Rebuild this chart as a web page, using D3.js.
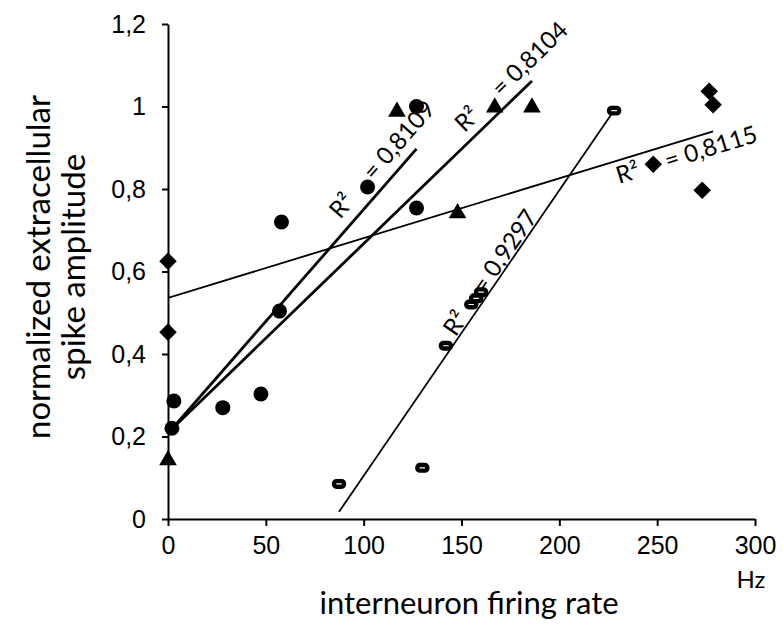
<!DOCTYPE html>
<html>
<head>
<meta charset="utf-8">
<script src="https://cdn.jsdelivr.net/npm/d3@7"></script>
<style>
  body { margin: 0; background: #fff; }
  svg { display: block; font-family: Lato, "Open Sans", sans-serif; }
  .axis path, .axis line { stroke: #000; stroke-width: 2; }
  .axis text { font-size: 25px; fill: #000; }
</style>
</head>
<body>
<div id="chart"></div>
<script>
"use strict";

// values (x in Hz, y normalized)
var circleX = [2, 3, 28, 47.5, 57, 58, 102, 127, 127];
var circleY = [0.22, 0.286, 0.27, 0.303, 0.504, 0.72, 0.805, 0.754, 1.0];

var triangleX = [0, 117, 148, 167, 186];
var triangleY = [0.145, 0.99, 0.744, 1.0, 1.0];

var diamondX = [0, 0, 248, 273, 276.6, 278.6];
var diamondY = [0.625, 0.453, 0.86, 0.797, 1.037, 1.004];

var squareX = [87.4, 130, 142, 155, 157.5, 160, 228];
var squareY = [0.085, 0.124, 0.42, 0.52, 0.535, 0.55, 0.99];

var r2Labels = ["0,8109", "0,8104", "0,9297", "0,8115"];
// where each R² label starts, in data units
var r2AnchorX = [88, 151.5, 147, 230.5];
var r2AnchorY = [0.725, 0.935, 0.44, 0.812];

var xTicks = [0, 50, 100, 150, 200, 250, 300];
var yTicks = [0, 0.2, 0.4, 0.6, 0.8, 1, 1.2];
var yTickLabels = ["0", "0,2", "0,4", "0,6", "0,8", "1", "1,2"];

var w = 783, h = 625;
var pLeft = 168, pRight = 755, pTop = 24, pBottom = 519;

var x = d3.scaleLinear().domain([0, 300]).range([pLeft, pRight]);
var y = d3.scaleLinear().domain([0, 1.2]).range([pBottom, pTop]);

var svg = d3.select("#chart").append("svg")
  .attr("width", w)
  .attr("height", h);

svg.append("defs").append("clipPath").attr("id", "plot")
  .append("rect")
  .attr("x", pLeft).attr("y", pTop)
  .attr("width", pRight - pLeft).attr("height", pBottom - pTop);

//least squares fit, used for the trendlines
function fit(xs, ys) {
  var mx = d3.mean(xs), my = d3.mean(ys);
  var sxy = 0, sxx = 0;
  for (var i = 0; i < xs.length; i++) {
    sxy += (xs[i] - mx) * (ys[i] - my);
    sxx += (xs[i] - mx) * (xs[i] - mx);
  }
  var slope = sxy / sxx;
  return { slope: slope, icpt: my - slope * mx, x0: d3.min(xs), x1: d3.max(xs) };
}

var series = [
  { xs: circleX, ys: circleY, width: 2.8 },
  { xs: triangleX, ys: triangleY, width: 2.8 },
  { xs: squareX, ys: squareY, width: 1.8 },
  { xs: diamondX, ys: diamondY, width: 1.8 }
];

// axes
svg.append("g")
  .attr("class", "axis")
  .attr("transform", "translate(0," + pBottom + ")")
  .call(d3.axisBottom(x).tickValues(xTicks).tickSize(7).tickPadding(7).tickSizeOuter(0))
  .call(function(g) { g.selectAll("text").attr("dy", "0.85em"); });

svg.append("g")
  .attr("class", "axis")
  .attr("transform", "translate(" + pLeft + ",0)")
  .call(d3.axisLeft(y).tickValues(yTicks).tickSize(6).tickPadding(16).tickSizeOuter(0)
    .tickFormat(function(d, i) { return yTickLabels[i]; }));

// trendlines
var trends = svg.append("g").attr("clip-path", "url(#plot)");
series.forEach(function(s) {
  var f = fit(s.xs, s.ys);
  s.fit = f;
  trends.append("line")
    .attr("x1", x(f.x0)).attr("y1", y(f.icpt + f.slope * f.x0))
    .attr("x2", x(f.x1)).attr("y2", y(f.icpt + f.slope * f.x1))
    .attr("stroke", "#000")
    .attr("stroke-width", s.width);
});

// markers
var marks = svg.append("g");

marks.selectAll(".circ").data(d3.zip(circleX, circleY)).enter()
  .append("circle")
  .attr("cx", function(d) { return x(d[0]); })
  .attr("cy", function(d) { return y(d[1]); })
  .attr("r", 7.5)
  .attr("fill", "#000");

var tri = d3.symbol().type(d3.symbolTriangle).size(135);
marks.selectAll(".tri").data(d3.zip(triangleX, triangleY)).enter()
  .append("path")
  .attr("d", tri)
  .attr("transform", function(d) { return "translate(" + x(d[0]) + "," + (y(d[1]) + 1) + ")"; })
  .attr("fill", "#000");

marks.selectAll(".dia").data(d3.zip(diamondX, diamondY)).enter()
  .append("rect")
  .attr("x", -6.2).attr("y", -6.2)
  .attr("width", 12.4).attr("height", 12.4)
  .attr("transform", function(d) { return "translate(" + x(d[0]) + "," + y(d[1]) + ") rotate(45)"; })
  .attr("fill", "#000");

marks.selectAll(".sq").data(d3.zip(squareX, squareY)).enter()
  .append("rect")
  .attr("x", function(d) { return x(d[0]) - 5; })
  .attr("y", function(d) { return y(d[1]) - 2.8; })
  .attr("width", 10).attr("height", 5.6)
  .attr("rx", 2.5)
  .attr("fill", "#fff")
  .attr("stroke", "#000")
  .attr("stroke-width", 4.4);

// R² labels, turned along their trendline
var kx = (x(1) - x(0)), ky = (y(0) - y(1));
series.forEach(function(s, i) {
  var ang = -Math.atan(s.fit.slope * ky / kx) * 180 / Math.PI;
  var t = svg.append("text")
    .attr("transform", "translate(" + x(r2AnchorX[i]) + "," + y(r2AnchorY[i]) + ") rotate(" + ang + ")")
    .attr("font-size", 24)
    .attr("fill", "#000");
  t.append("tspan").text("R²");
  t.append("tspan").attr("dx", 28).text("= " + r2Labels[i]);
});

// axis titles
svg.append("text")
  .attr("x", 469).attr("y", 614)
  .attr("text-anchor", "middle")
  .attr("font-size", 31)
  .text("interneuron firing rate");

svg.append("text")
  .attr("x", 751).attr("y", 588)
  .attr("text-anchor", "middle")
  .attr("font-size", 24)
  .text("Hz");

var yt = svg.append("text")
  .attr("transform", "translate(50,267) rotate(-90)")
  .attr("text-anchor", "middle")
  .attr("font-size", 33);
yt.append("tspan").attr("x", 0).attr("y", 0).text("normalized extracellular");
yt.append("tspan").attr("x", 0).attr("y", 35).text("spike amplitude");
</script>
</body>
</html>
